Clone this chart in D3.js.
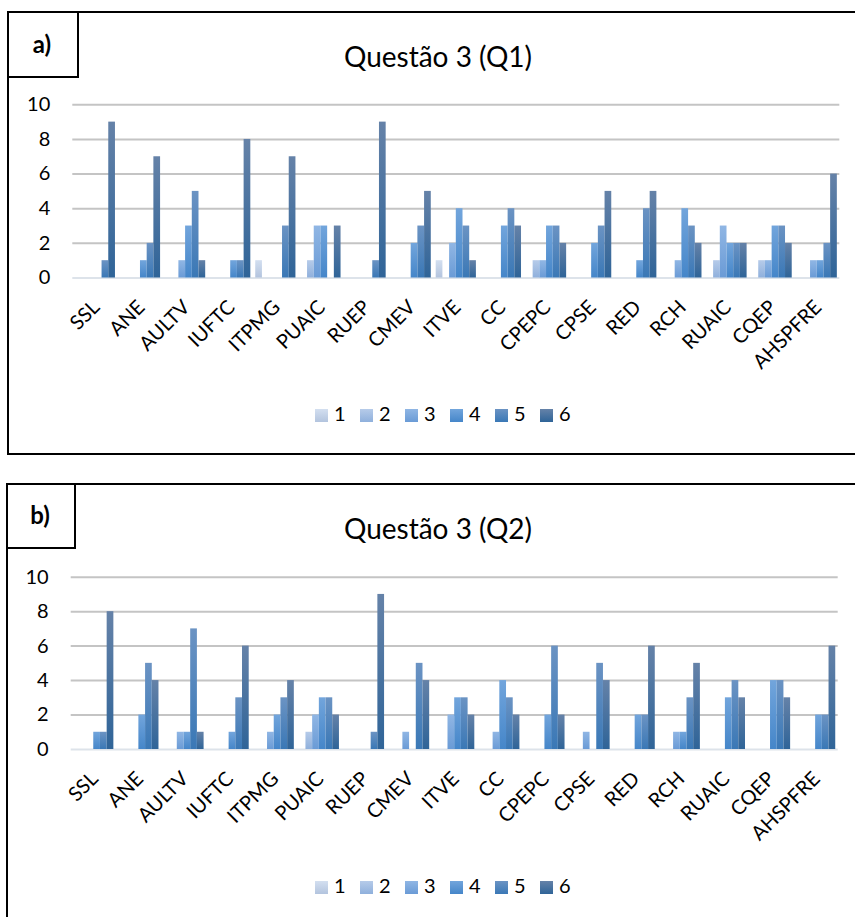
<!DOCTYPE html>
<html>
<head>
<meta charset="utf-8">
<script src="https://cdn.jsdelivr.net/npm/d3@7"></script>
<style>
  html, body { margin: 0; padding: 0; background: #fff; }
  svg { display: block; }
  text { font-family: Lato, "Open Sans", sans-serif; fill: #000; }
</style>
</head>
<body>
<svg id="chart" width="855" height="917"></svg>
<script>
const categories = ["SSL","ANE","AULTV","IUFTC","ITPMG","PUAIC","RUEP","CMEV","ITVE","CC","CPEPC","CPSE","RED","RCH","RUAIC","CQEP","AHSPFRE"];
const seriesNames = ["1","2","3","4","5","6"];
const yTicks = [0, 2, 4, 6, 8, 10];

// Questão 3 (Q1)
const q1_s1 = [0,0,0,0,1,0,0,0,1,0,0,0,0,0,0,0,0];
const q1_s2 = [0,0,0,0,0,1,0,0,0,0,1,0,0,0,1,1,0];
const q1_s3 = [0,0,1,0,0,3,0,0,2,0,1,0,0,1,3,1,1];
const q1_s4 = [0,1,3,1,0,3,0,2,4,3,3,2,1,4,2,3,1];
const q1_s5 = [1,2,5,1,3,0,1,3,3,4,3,3,4,3,2,3,2];
const q1_s6 = [9,7,1,8,7,3,9,5,1,3,2,5,5,2,2,2,6];

// Questão 3 (Q2)
const q2_s1 = [0,0,0,0,0,0,0,0,0,0,0,0,0,0,0,0,0];
const q2_s2 = [0,0,0,0,0,1,0,0,0,0,0,0,0,0,0,0,0];
const q2_s3 = [0,0,1,0,1,2,0,1,2,1,0,1,0,1,0,0,0];
const q2_s4 = [1,2,1,1,2,3,0,0,3,4,2,0,2,1,3,4,2];
const q2_s5 = [1,5,7,3,3,3,1,5,3,3,6,5,2,3,4,4,2];
const q2_s6 = [8,4,1,6,4,2,9,4,2,2,2,4,6,5,3,3,6];

const panels = [
  { label: "a)", title: "Questão 3 (Q1)", series: [q1_s1,q1_s2,q1_s3,q1_s4,q1_s5,q1_s6] },
  { label: "b)", title: "Questão 3 (Q2)", series: [q2_s1,q2_s2,q2_s3,q2_s4,q2_s5,q2_s6] }
];

// gradient colours (top, bottom) per series
const grads = [
  ["#d3dff0", "#b3c4de"],
  ["#b6cbe9", "#8fb0dc"],
  ["#90b6e4", "#6a9bd6"],
  ["#72a5dc", "#4586c9"],
  ["#6b93c3", "#3a78b6"],
  ["#6582a8", "#2f6498"]
];

const svg = d3.select("#chart");
const defs = svg.append("defs");
grads.forEach((g, i) => {
  const lg = defs.append("linearGradient").attr("id", "g" + i)
    .attr("x1", 0).attr("y1", 0).attr("x2", 0).attr("y2", 1);
  lg.append("stop").attr("offset", "0%").attr("stop-color", g[0]);
  lg.append("stop").attr("offset", "100%").attr("stop-color", g[1]);
});

const layouts = [
  { top: 12, left: 8, right: 870, bottom: 454, boxW: 70, boxH: 65, x0: 72.3, x1: 839.3, y0: 277.5, y10: 104.3 },
  { top: 484, left: 7, right: 870, bottom: 940, boxW: 68, boxH: 64, x0: 70.7, x1: 837.7, y0: 749, y10: 576.7 }
];

panels.forEach((p, pi) => {
  const L = layouts[pi];
  const g = svg.append("g");

  // outer frame
  g.append("rect").attr("x", L.left).attr("y", L.top)
    .attr("width", L.right - L.left).attr("height", L.bottom - L.top)
    .attr("fill", "none").attr("stroke", "#000").attr("stroke-width", 2);
  // label box
  g.append("rect").attr("x", L.left).attr("y", L.top)
    .attr("width", L.boxW).attr("height", L.boxH)
    .attr("fill", "#fff").attr("stroke", "#000").attr("stroke-width", 2);
  g.append("text").attr("x", L.left + L.boxW / 2 - 1).attr("y", L.top + L.boxH / 2 + 8)
    .attr("text-anchor", "middle").attr("font-size", 24).attr("font-weight", "bold")
    .text(p.label);

  // title
  g.append("text").attr("x", 438).attr("y", L.top + 55)
    .attr("text-anchor", "middle").attr("font-size", 28).text(p.title);

  const x = d3.scaleBand().domain(categories).range([L.x0, L.x1])
    .paddingInner(0.109).paddingOuter(0.0545);
  const xs = d3.scaleBand().domain(seriesNames).range([0, x.bandwidth()]).padding(0);
  const y = d3.scaleLinear().domain([0, 10]).range([L.y0, L.y10]);

  // gridlines + y labels
  const yAxis = g.append("g").attr("transform", `translate(${L.x0},0)`)
    .call(d3.axisLeft(y).tickValues(yTicks).tickSize(-(L.x1 - L.x0)).tickPadding(22).tickFormat(d3.format("d")));
  yAxis.select(".domain").remove();
  yAxis.selectAll(".tick line")
    .attr("stroke", d => d === 0 ? "#dde3ea" : "#c4c4c4").attr("stroke-width", 2);
  yAxis.selectAll(".tick text").attr("font-size", 20).attr("font-family", "Lato, sans-serif").attr("fill", "#000");

  // bars
  p.series.forEach((vals, si) => {
    g.append("g").selectAll("rect").data(vals.map((v, ci) => ({ v, c: categories[ci] })))
      .join("rect")
      .filter(d => d.v > 0)
      .attr("x", d => x(d.c) + xs(seriesNames[si]))
      .attr("y", d => y(d.v))
      .attr("width", xs.bandwidth())
      .attr("height", d => y(0) - y(d.v))
      .attr("fill", `url(#g${si})`);
  });

  // x labels
  g.append("g").selectAll("text").data(categories).join("text")
    .attr("transform", d => `translate(${x(d) + x.bandwidth() / 2 + 6},${L.y0 + 31}) rotate(-45)`)
    .attr("text-anchor", "end").attr("font-size", 20).text(d => d);

  // legend
  const leg = g.append("g");
  seriesNames.forEach((s, i) => {
    const lx = 315 + i * 45;
    const ly = L.top + 397;
    leg.append("rect").attr("x", lx).attr("y", ly).attr("width", 13).attr("height", 13)
      .attr("fill", `url(#g${i})`);
    leg.append("text").attr("x", lx + 19).attr("y", ly + 12).attr("font-size", 20).text(s);
  });
});
</script>
</body>
</html>
